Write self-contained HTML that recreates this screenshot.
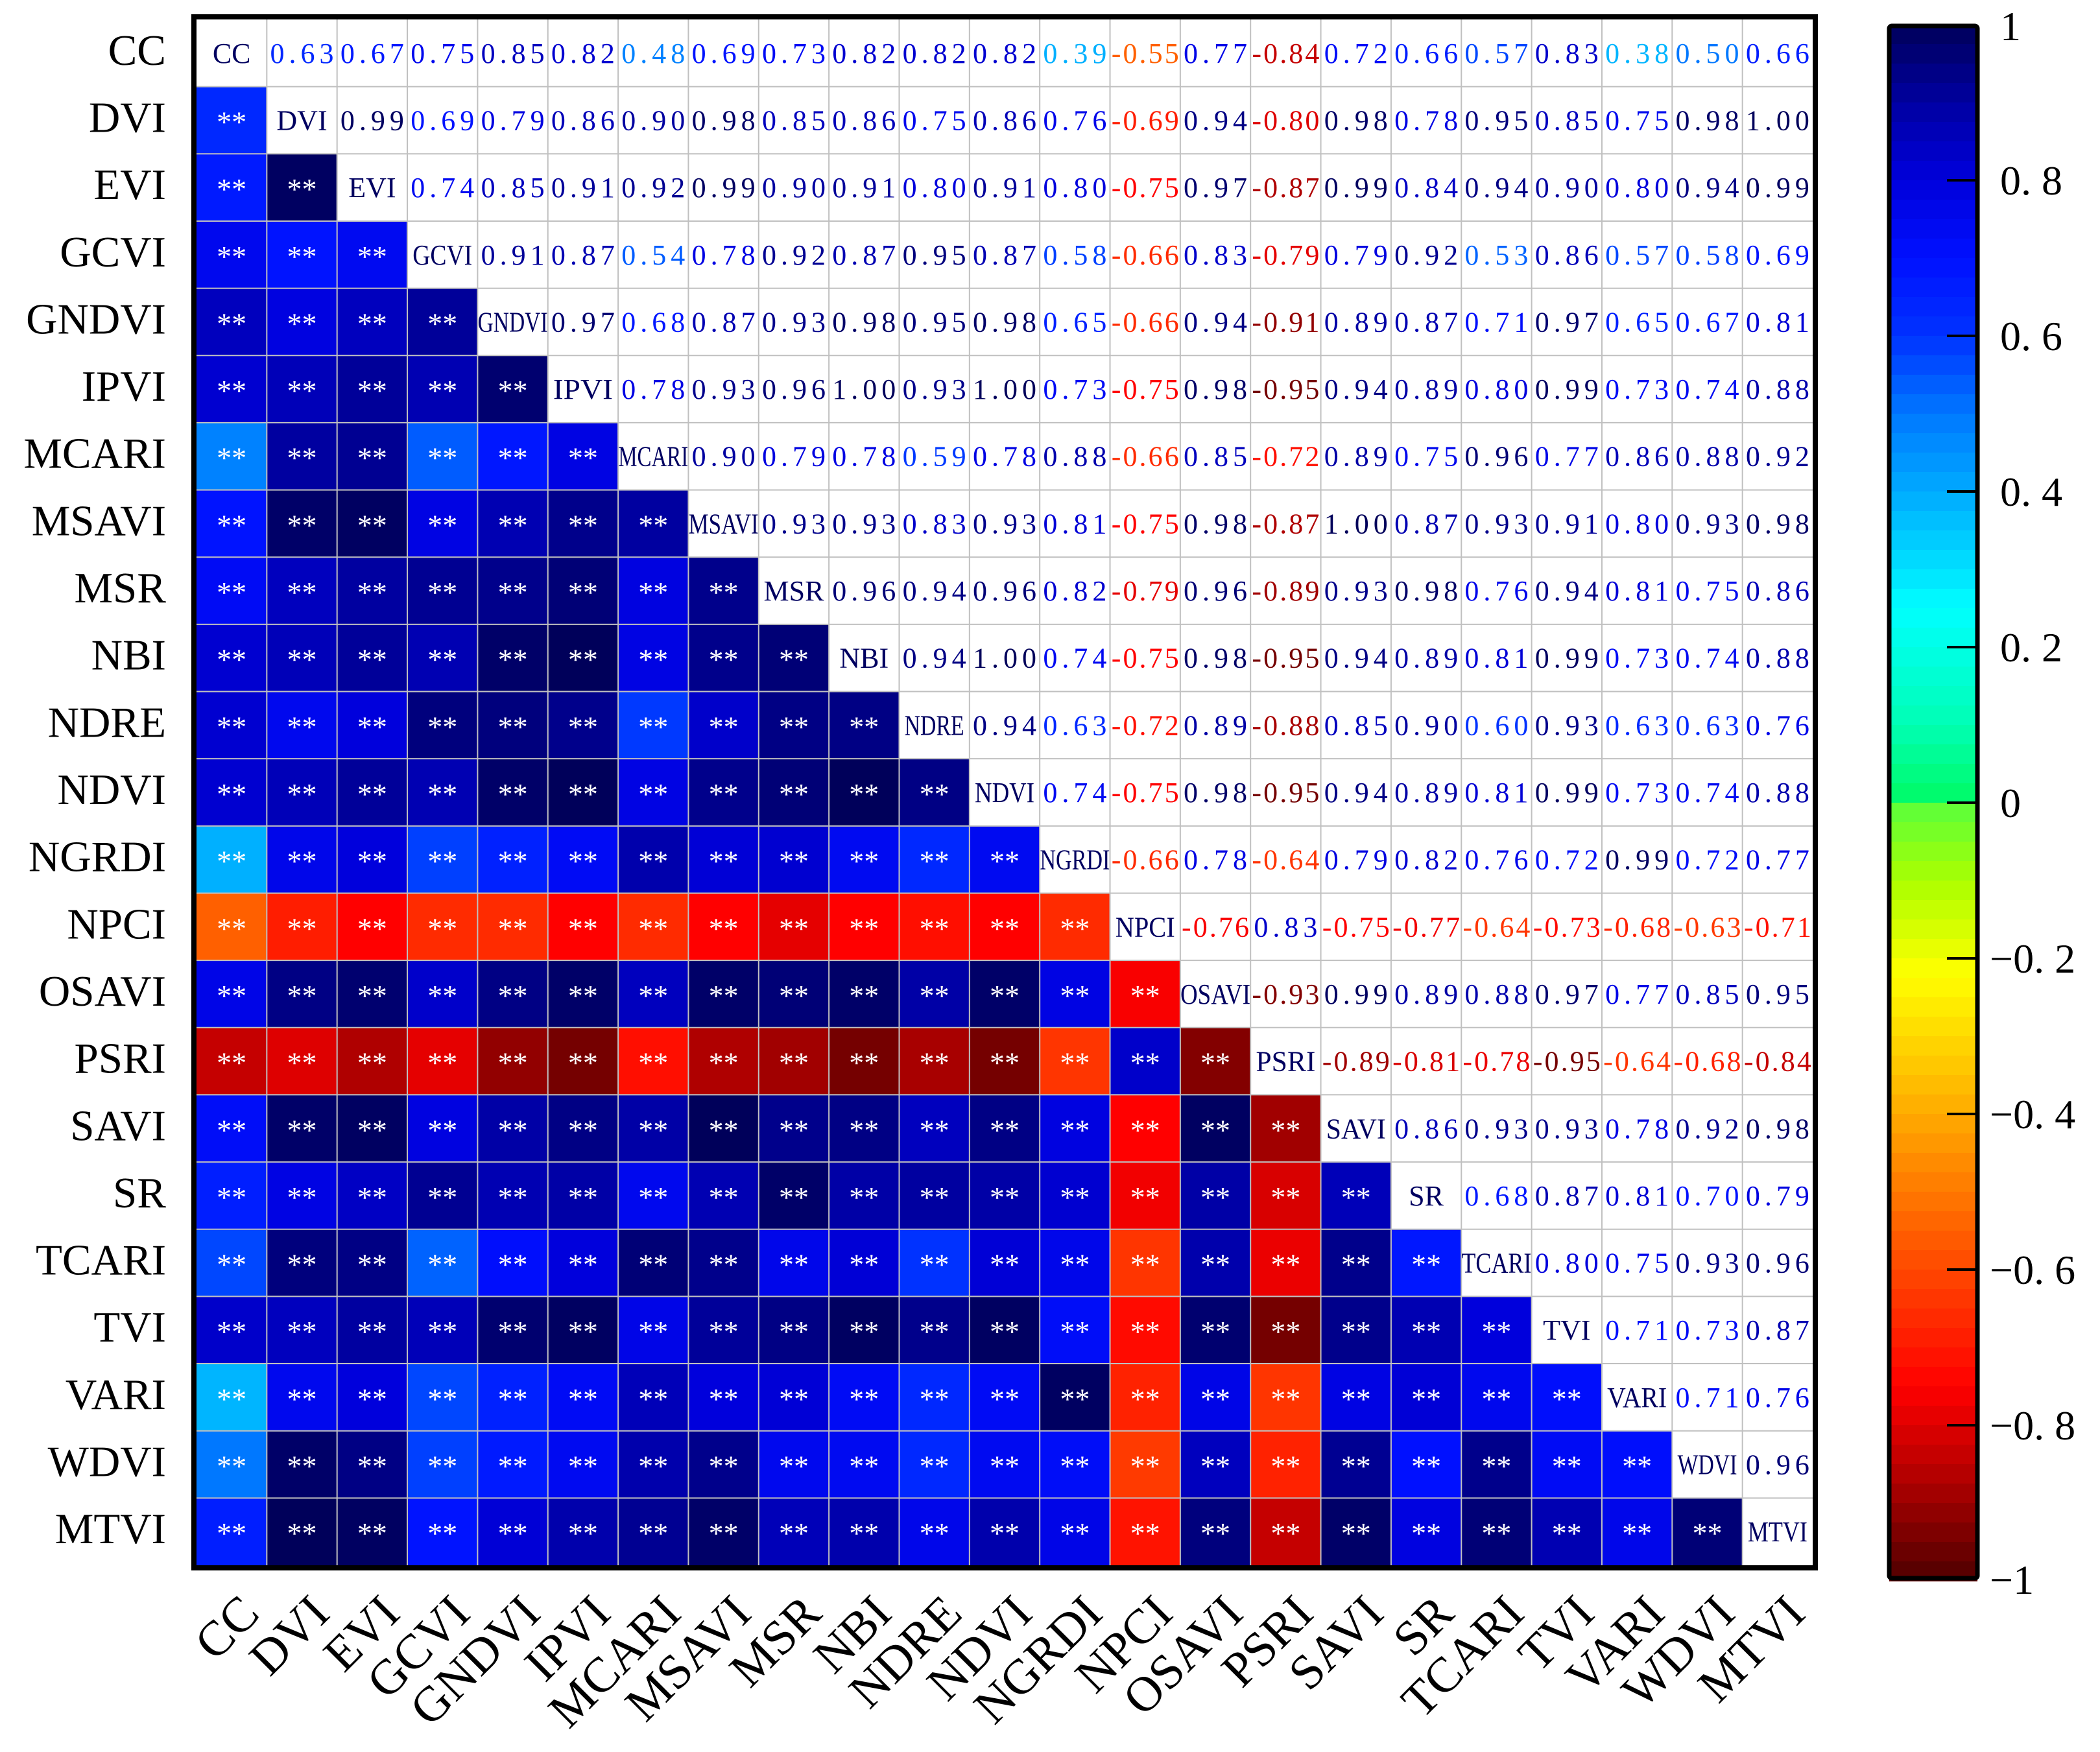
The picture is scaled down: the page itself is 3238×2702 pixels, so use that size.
<!DOCTYPE html>
<html><head><meta charset="utf-8">
<style>
html,body{margin:0;padding:0;background:#fff;}
svg{display:block;}
text{font-family:"Liberation Serif","Noto Serif CJK SC",serif;}
</style></head>
<body>
<svg id="chart" width="3238" height="2702" viewBox="0 0 3238 2702" xmlns="http://www.w3.org/2000/svg">
<rect x="0" y="0" width="3238" height="2702" fill="#fff"/>
<g id="cells"></g>
<g id="grid"></g>
<g id="labels"></g>
<rect x="299" y="26" width="2500" height="2392" fill="none" stroke="#000" stroke-width="8"/>
<g id="rowlabels"></g>
<g id="collabels"></g>
<g id="cbar"></g>
</svg>
<script>
const names = ["CC","DVI","EVI","GCVI","GNDVI","IPVI","MCARI","MSAVI","MSR","NBI","NDRE","NDVI","NGRDI","NPCI","OSAVI","PSRI","SAVI","SR","TCARI","TVI","VARI","WDVI","MTVI"];
const rowCC = [0.63,0.67,0.75,0.85,0.82,0.48,0.69,0.73,0.82,0.82,0.82,0.39,-0.55,0.77,-0.84,0.72,0.66,0.57,0.83,0.38,0.50,0.66];
const rowDVI = [0.99,0.69,0.79,0.86,0.90,0.98,0.85,0.86,0.75,0.86,0.76,-0.69,0.94,-0.80,0.98,0.78,0.95,0.85,0.75,0.98,1.00];
const rowEVI = [0.74,0.85,0.91,0.92,0.99,0.90,0.91,0.80,0.91,0.80,-0.75,0.97,-0.87,0.99,0.84,0.94,0.90,0.80,0.94,0.99];
const rowGCVI = [0.91,0.87,0.54,0.78,0.92,0.87,0.95,0.87,0.58,-0.66,0.83,-0.79,0.79,0.92,0.53,0.86,0.57,0.58,0.69];
const rowGNDVI = [0.97,0.68,0.87,0.93,0.98,0.95,0.98,0.65,-0.66,0.94,-0.91,0.89,0.87,0.71,0.97,0.65,0.67,0.81];
const rowIPVI = [0.78,0.93,0.96,1.00,0.93,1.00,0.73,-0.75,0.98,-0.95,0.94,0.89,0.80,0.99,0.73,0.74,0.88];
const rowMCARI = [0.90,0.79,0.78,0.59,0.78,0.88,-0.66,0.85,-0.72,0.89,0.75,0.96,0.77,0.86,0.88,0.92];
const rowMSAVI = [0.93,0.93,0.83,0.93,0.81,-0.75,0.98,-0.87,1.00,0.87,0.93,0.91,0.80,0.93,0.98];
const rowMSR = [0.96,0.94,0.96,0.82,-0.79,0.96,-0.89,0.93,0.98,0.76,0.94,0.81,0.75,0.86];
const rowNBI = [0.94,1.00,0.74,-0.75,0.98,-0.95,0.94,0.89,0.81,0.99,0.73,0.74,0.88];
const rowNDRE = [0.94,0.63,-0.72,0.89,-0.88,0.85,0.90,0.60,0.93,0.63,0.63,0.76];
const rowNDVI = [0.74,-0.75,0.98,-0.95,0.94,0.89,0.81,0.99,0.73,0.74,0.88];
const rowNGRDI = [-0.66,0.78,-0.64,0.79,0.82,0.76,0.72,0.99,0.72,0.77];
const rowNPCI = [-0.76,0.83,-0.75,-0.77,-0.64,-0.73,-0.68,-0.63,-0.71];
const rowOSAVI = [-0.93,0.99,0.89,0.88,0.97,0.77,0.85,0.95];
const rowPSRI = [-0.89,-0.81,-0.78,-0.95,-0.64,-0.68,-0.84];
const rowSAVI = [0.86,0.93,0.93,0.78,0.92,0.98];
const rowSR = [0.68,0.87,0.81,0.70,0.79];
const rowTCARI = [0.80,0.75,0.93,0.96];
const rowTVI = [0.71,0.73,0.87];
const rowVARI = [0.71,0.76];
const rowWDVI = [0.96];
const upperRows = [rowCC,rowDVI,rowEVI,rowGCVI,rowGNDVI,rowIPVI,rowMCARI,rowMSAVI,rowMSR,rowNBI,rowNDRE,rowNDVI,rowNGRDI,rowNPCI,rowOSAVI,rowPSRI,rowSAVI,rowSR,rowTCARI,rowTVI,rowVARI,rowWDVI,[]];
const cbarTicks = [0.8,0.6,0.4,0.2,0,-0.2,-0.4,-0.6,-0.8];

const NS = "http://www.w3.org/2000/svg";
const n = names.length;
const X0 = 303, X1 = 2795, Y0 = 30, Y1 = 2414;
const cw = (X1 - X0) / n, ch = (Y1 - Y0) / n;
function xPos(j){ return X0 + j*cw; }
function yPos(i){ return Y0 + i*ch; }
const CB_TOP = 38, CB_BOT = 2438;
function cbY(v){ return CB_TOP + (1 - v) / 2 * (CB_BOT - CB_TOP); }

const stops = [
 [1.0,[0,0,90]],[0.9,[0,0,160]],[0.8,[0,0,220]],[0.7,[0,16,255]],[0.6,[0,50,255]],
 [0.5,[0,120,255]],[0.4,[0,170,255]],[0.3,[0,225,255]],[0.25,[0,255,255]],[0.1,[0,255,180]],
 [0.0,[0,250,100]],[-0.001,[90,255,60]],[-0.1,[170,255,0]],[-0.22,[255,255,0]],[-0.4,[255,170,0]],
 [-0.55,[255,96,0]],[-0.65,[255,48,0]],[-0.75,[255,0,0]],[-0.85,[190,0,0]],[-1.0,[80,0,0]]];
function cmap(v){
  v = Math.max(-1, Math.min(1, v));
  for (let k=0;k<stops.length-1;k++){
    const a=stops[k], b=stops[k+1];
    if (v<=a[0] && v>=b[0]){
      const t=(a[0]-v)/(a[0]-b[0]);
      const c=a[1].map((q,idx)=>Math.round(q+(b[1][idx]-q)*t));
      return "rgb("+c.join(",")+")";
    }
  }
  return "rgb(80,0,0)";
}
function mk(tag, attrs, parent){
  const e=document.createElementNS(NS,tag);
  for (const k in attrs) e.setAttribute(k, attrs[k]);
  parent.appendChild(e);
  return e;
}
const M = [];
for (let i=0;i<n;i++){ M.push(new Array(n).fill(1)); }
for (let i=0;i<n;i++){
  const r = upperRows[i];
  for (let k=0;k<r.length;k++){ const j=i+1+k; M[i][j]=r[k]; M[j][i]=r[k]; }
}
const gCells=document.getElementById("cells"), gLab=document.getElementById("labels");
for (let i=0;i<n;i++){
  for (let j=0;j<n;j++){
    const cx = xPos(j)+cw/2, cy = yPos(i)+ch/2;
    if (j<i){
      const r = mk("rect",{x:xPos(j),y:yPos(i),width:cw+0.5,height:ch+0.5,fill:cmap(M[i][j])},gCells);
      
      
      const t = mk("text",{x:cx,y:cy+18,"text-anchor":"middle","font-size":46,fill:"#fff"},gLab);
      t.textContent="**";
      
      
    } else if (j===i){
      const t = mk("text",{x:cx,y:cy+15,"text-anchor":"middle","font-size":44,fill:"#000060"},gLab);
      t.textContent=names[i];
      const L = names[i].length;
      if (L>=4) { t.setAttribute("textLength", Math.min(108, L*23)); t.setAttribute("lengthAdjust","spacingAndGlyphs"); }
      
      
    } else {
      const v = M[i][j];
      const s = v<0 ? "-"+Math.abs(v).toFixed(2) : v.toFixed(2);
      const t = mk("text",{x:cx,y:cy+15,"text-anchor":"middle","font-size":44,fill:cmap(v),
        textLength: v<0?104:98, lengthAdjust:"spacing"},gLab);
      t.textContent=s;
      
      
    }
  }
}
const gGrid=document.getElementById("grid");
for (let k=1;k<n;k++){
  const l1=mk("line",{x1:xPos(k),x2:xPos(k),y1:Y0,y2:Y1,stroke:"#c0c0c0","stroke-width":2},gGrid);
  
  
  const l2=mk("line",{x1:X0,x2:X1,y1:yPos(k),y2:yPos(k),stroke:"#c0c0c0","stroke-width":2},gGrid);
  
  
}
const gRow=document.getElementById("rowlabels"), gCol=document.getElementById("collabels");
for (let i=0;i<n;i++){
  const t=mk("text",{x:256,y:yPos(i)+ch/2+18,"text-anchor":"end","font-size":67,fill:"#000"},gRow);
  t.textContent=names[i];
  
  
  const ax = xPos(i)+cw/2+46, ay = 2492;
  const c=mk("text",{x:ax,y:ay,"text-anchor":"end","font-size":76,fill:"#000",transform:"rotate(-45 "+ax+" "+ay+")"},gCol);
  c.textContent=names[i];
  
  
}
const gCb=document.getElementById("cbar");
const steps=80;
for (let s=0;s<steps;s++){
  const v1 = 1 - s*2/steps, v2 = 1-(s+1)*2/steps;
  const r=mk("rect",{x:2913,y:cbY(v1),width:136,height:cbY(v2)-cbY(v1)+0.8,fill:cmap((v1+v2)/2)},gCb);
  
  
}
const cbFrame=mk("rect",{x:2913,y:CB_TOP+2,width:136,height:CB_BOT-CB_TOP-6,fill:"none",stroke:"#000","stroke-width":7,rx:4},gCb);


for (const v of cbarTicks){
  const y=cbY(v);
  const tk=mk("line",{x1:3002,x2:3049,y1:y,y2:y,stroke:"#000","stroke-width":4},gCb);
  
  
}
const cbLabels=[1,0.8,0.6,0.4,0.2,0,-0.2,-0.4,-0.6,-0.8,-1];
for (const v of cbLabels){
  let s;
  if (v===1) s="1"; else if (v===-1) s="\u22121"; else if (v===0) s="0";
  else s=(v<0?"\u2212":"")+"0. "+Math.round(Math.abs(v)*10);
  let y=cbY(v)+22;
  if (v===1) y=cbY(v)+24; if (v===-1) y=cbY(v)+20;
  const t=mk("text",{x:v<0?3068:3084,y:y,"font-size":64,fill:"#000"},gCb);
  t.textContent=s;
  
  
}
</script>
</body></html>
